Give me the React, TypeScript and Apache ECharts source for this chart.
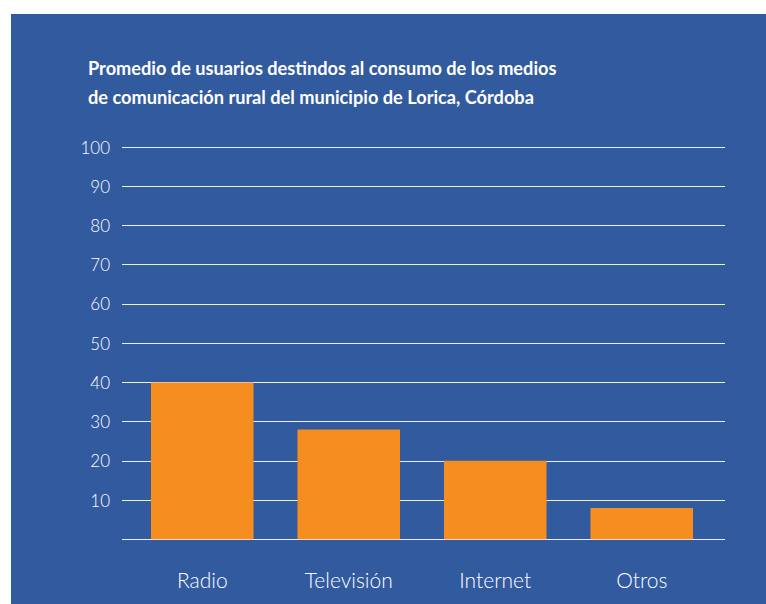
import React, { useEffect, useRef } from "react";
import * as echarts from "echarts";

const categories = ["Radio", "Televisión", "Internet", "Otros"];
const values = [40, 28, 20, 8];
const titleLines = [
  "Promedio de usuarios destindos al consumo de los medios",
  "de comunicación rural del municipio de Lorica, Córdoba",
];

const BLUE = "#325A9F";
const ORANGE = "#F68D1F";

export default function App() {
  const ref = useRef<HTMLDivElement>(null);
  useEffect(() => {
    const chart = echarts.init(ref.current!, null, { renderer: "svg" });
    chart.setOption({
      animation: false,
      backgroundColor: "#ffffff",
      graphic: [
        { type: "rect", z: -10, shape: { x: 11, y: 14, width: 755, height: 590 }, style: { fill: BLUE } },
      ],
      title: {
        text: titleLines.join("\n"),
        left: 88,
        top: 53,
        padding: 0,
        textStyle: {
          color: "#ffffff",
          fontFamily: "Lato",
          fontWeight: "bold",
          fontSize: 18.2,
          lineHeight: 29,
        },
      },
      grid: [
        { left: 122, top: 147, width: 603, height: 392.3, containLabel: false },
        { left: 129, top: 147, width: 586, height: 392.3, containLabel: false },
      ],
      xAxis: [
        {
          type: "category",
          gridIndex: 0,
          data: categories,
          show: false,
        },
        {
          type: "category",
          gridIndex: 1,
          data: categories,
          axisLine: { show: false },
          axisTick: { show: false },
          axisLabel: {
            color: "#ffffff",
            fontFamily: "Lato",
            fontWeight: 300,
            fontSize: 21,
            margin: 30,
          },
        },
      ],
      yAxis: [
        {
          type: "value",
          gridIndex: 0,
          min: 0,
          max: 100,
          interval: 10,
          axisLine: { show: false },
          axisTick: { show: false },
          splitLine: { lineStyle: { color: "rgba(255,255,255,0.9)", width: 1 } },
          axisLabel: {
            color: "#ffffff",
            fontFamily: "Lato",
            fontWeight: 300,
            fontSize: 17,
            margin: 12,
            padding: [12, 0, 0, 0],
            formatter: (v: number) => (v === 0 ? "" : String(v)),
          },
        },
        {
          type: "value",
          gridIndex: 1,
          min: 0,
          max: 100,
          interval: 10,
          show: false,
          splitLine: { show: false },
        },
      ],
      series: [
        {
          type: "bar",
          xAxisIndex: 1,
          yAxisIndex: 1,
          data: values,
          barCategoryGap: "30%",
          itemStyle: { color: ORANGE },
        },
      ],
    });
    return () => chart.dispose();
  }, []);
  return (
    <div
      ref={ref}
      style={{ position: "fixed", left: 0, top: 0, width: 766, height: 604 }}
    />
  );
}
